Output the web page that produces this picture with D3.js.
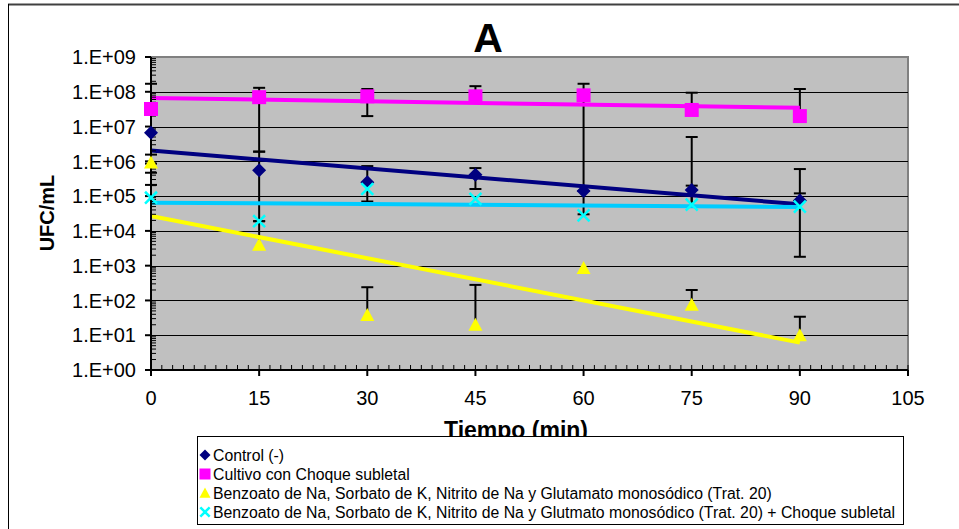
<!DOCTYPE html>
<html>
<head>
<meta charset="utf-8">
<script src="https://cdn.jsdelivr.net/npm/d3@7"></script>
<style>
  html, body { margin: 0; padding: 0; background: #fff; }
  svg { display: block; font-family: "Liberation Sans", Arial, sans-serif; }
</style>
</head>
<body>
<svg id="chart" width="959" height="529"></svg>
<script>
// Sampling times (min)
const times = [0, 15, 30, 45, 60, 75, 90];
const xTicks = [0, 15, 30, 45, 60, 75, 90, 105];
const yExponents = [0, 1, 2, 3, 4, 5, 6, 7, 8, 9];

// Control (-)
const control   = [6.6e6, 5.5e5, 2.5e5, 4.1e5, 1.4e5, 1.5e5, 7.5e4];
const controlHi = [null, 1.9e6, 7.3e5, 6.4e5, null, 5e6, 6e5];
const controlLo = [8.6e5, 1.9e4, 7e4, 1.6e5, 3e4, 5e4, 1.8e3];

// Cultivo con Choque subletal
const shock   = [3.2e7, 7e7, 7.4e7, 7.4e7, 7.9e7, 3e7, 2e7];
const shockHi = [1.7e8, 1.3e8, 1.2e8, 1.45e8, 1.7e8, 9.4e7, 1.2e8];
const shockLo = [null, 1.9e6, 2e7, null, 1.4e5, null, null];

// Trat. 20
const trat   = [9.2e5, 4e3, 38, 20, 850, 75, 10];
const tratHi = [1.56e6, 1.9e4, 240, 280, null, 200, 34];
const tratLo = [4.7e5, null, null, null, null, null, null];

// Trat. 20 + Choque subletal
const tratShock   = [9e4, 1.9e4, 1.6e5, 8.3e4, 2.8e4, 5.7e4, 5e4];
const tratShockHi = [2.1e5, null, null, null, null, 2e5, 1.2e5];
const tratShockLo = [null, null, null, null, null, null, null];

const legendLabels = [
  "Control (-)",
  "Cultivo con Choque subletal",
  "Benzoato de Na, Sorbato de K, Nitrito de Na y Glutamato monosódico (Trat. 20)",
  "Benzoato de Na, Sorbato de K, Nitrito de Na y Glutmato monosódico (Trat. 20) + Choque subletal"
];

const series = [
  { name: legendLabels[0], values: control,   hi: controlHi,   lo: controlLo,   marker: "diamond",  fill: "#000080", trend: "#000080" },
  { name: legendLabels[1], values: shock,     hi: shockHi,     lo: shockLo,     marker: "square",   fill: "#FF00FF", trend: "#FF00FF" },
  { name: legendLabels[2], values: trat,      hi: tratHi,      lo: tratLo,      marker: "triangle", fill: "#FFFF00", trend: "#FFFF00" },
  { name: legendLabels[3], values: tratShock, hi: tratShockHi, lo: tratShockLo, marker: "cross",    fill: "#00FFFF", trend: "#00CCFF" }
];

const svg = d3.select("#chart");
const plot = { left: 151, right: 908, top: 57, bottom: 370 };

const x = d3.scaleLinear().domain([0, 105]).range([plot.left, plot.right]);
const y = d3.scaleLog().domain([1, 1e9]).range([plot.bottom, plot.top]);

// outer chart frame
svg.append("line").attr("x1", 8).attr("x2", 959).attr("y1", 4.5).attr("y2", 4.5)
  .attr("stroke", "#404040").attr("stroke-width", 2);
svg.append("line").attr("x1", 8.5).attr("x2", 8.5).attr("y1", 4).attr("y2", 529)
  .attr("stroke", "#000").attr("stroke-width", 1);

// plot area
svg.append("rect")
  .attr("x", plot.left).attr("y", plot.top)
  .attr("width", plot.right - plot.left).attr("height", plot.bottom - plot.top)
  .attr("fill", "#C0C0C0");
svg.append("path")
  .attr("d", `M${plot.left},${plot.top}H${plot.right}V${plot.bottom}`)
  .attr("fill", "none").attr("stroke", "#808080").attr("stroke-width", 2);

// horizontal gridlines at each decade
svg.append("g").selectAll("line")
  .data(yExponents.filter(e => e > 0 && e < 9))
  .join("line")
  .attr("x1", plot.left).attr("x2", plot.right)
  .attr("y1", e => Math.round(y(Math.pow(10, e))) + 0.5)
  .attr("y2", e => Math.round(y(Math.pow(10, e))) + 0.5)
  .attr("stroke", "#000").attr("stroke-width", 1);

// error bars
const errG = svg.append("g");
series.forEach(s => {
  times.forEach((t, i) => {
    const cx = x(t);
    [s.hi[i], s.lo[i]].forEach(b => {
      if (b == null) return;
      errG.append("line")
        .attr("x1", cx).attr("x2", cx)
        .attr("y1", y(s.values[i])).attr("y2", y(b))
        .attr("stroke", "#000").attr("stroke-width", 2);
      errG.append("line")
        .attr("x1", cx - 6).attr("x2", cx + 6)
        .attr("y1", y(b)).attr("y2", y(b))
        .attr("stroke", "#000").attr("stroke-width", 2);
    });
  });
});

// exponential trendlines: least squares on log10 of the values
const trendG = svg.append("g");
series.forEach(s => {
  const ly = s.values.map(v => Math.log10(v));
  const mx = d3.mean(times), my = d3.mean(ly);
  const slope = d3.sum(times, (t, i) => (t - mx) * (ly[i] - my)) / d3.sum(times, t => (t - mx) * (t - mx));
  const icpt = my - slope * mx;
  const t0 = times[0], t1 = times[times.length - 1];
  trendG.append("line")
    .attr("x1", x(t0)).attr("y1", y(Math.pow(10, icpt + slope * t0)))
    .attr("x2", x(t1)).attr("y2", y(Math.pow(10, icpt + slope * t1)))
    .attr("stroke", s.trend).attr("stroke-width", 4);
});

// axes
const yAxisG = svg.append("g");
yAxisG.append("line").attr("x1", plot.left).attr("x2", plot.left)
  .attr("y1", plot.top).attr("y2", plot.bottom).attr("stroke", "#000").attr("stroke-width", 2);
// log minor ticks (inside)
const minorY = [];
yExponents.slice(0, -1).forEach(e => { for (let k = 2; k <= 9; k++) minorY.push(k * Math.pow(10, e)); });
yAxisG.selectAll(".ymin").data(minorY).join("line")
  .attr("x1", plot.left).attr("x2", plot.left + 5)
  .attr("y1", d => y(d)).attr("y2", d => y(d))
  .attr("stroke", "#000").attr("stroke-width", 1);
yAxisG.selectAll(".ymaj").data(yExponents).join("line")
  .attr("x1", plot.left - 6).attr("x2", plot.left)
  .attr("y1", e => y(Math.pow(10, e))).attr("y2", e => y(Math.pow(10, e)))
  .attr("stroke", "#000").attr("stroke-width", 2);
yAxisG.selectAll("text").data(yExponents).join("text")
  .attr("x", 136).attr("y", e => y(Math.pow(10, e)))
  .attr("dy", "0.36em").attr("text-anchor", "end")
  .attr("font-size", 20).attr("fill", "#000")
  .text(e => `1.E+${String(e).padStart(2, "0")}`);

const xAxisG = svg.append("g");
xAxisG.append("line").attr("x1", plot.left).attr("x2", plot.right)
  .attr("y1", plot.bottom).attr("y2", plot.bottom).attr("stroke", "#000").attr("stroke-width", 2);
const minorX = d3.range(0, 105.01, 1.5);
xAxisG.selectAll(".xmin").data(minorX).join("line")
  .attr("x1", d => x(d)).attr("x2", d => x(d))
  .attr("y1", plot.bottom - 5).attr("y2", plot.bottom)
  .attr("stroke", "#000").attr("stroke-width", 1);
xAxisG.selectAll(".xmaj").data(xTicks).join("line")
  .attr("x1", d => x(d)).attr("x2", d => x(d))
  .attr("y1", plot.bottom).attr("y2", plot.bottom + 6)
  .attr("stroke", "#000").attr("stroke-width", 2);
xAxisG.selectAll("text").data(xTicks).join("text")
  .attr("x", d => x(d)).attr("y", 405)
  .attr("text-anchor", "middle").attr("font-size", 20).attr("fill", "#000")
  .text(d => d);

// markers
function drawMarker(g, type, cx, cy, fill, size) {
  const h = size / 2;
  if (type === "diamond") {
    g.append("path").attr("d", `M${cx},${cy - h}L${cx + h},${cy}L${cx},${cy + h}L${cx - h},${cy}Z`).attr("fill", fill);
  } else if (type === "square") {
    g.append("rect").attr("x", cx - h).attr("y", cy - h).attr("width", size).attr("height", size).attr("fill", fill);
  } else if (type === "triangle") {
    g.append("path").attr("d", `M${cx},${cy - h}L${cx + h},${cy + h * 0.85}L${cx - h},${cy + h * 0.85}Z`).attr("fill", fill);
  } else {
    const c = h * 0.85;
    g.append("path").attr("d", `M${cx - c},${cy - c}L${cx + c},${cy + c}M${cx - c},${cy + c}L${cx + c},${cy - c}`)
      .attr("stroke", fill).attr("stroke-width", 2.5).attr("fill", "none");
  }
}
const markG = svg.append("g");
series.forEach(s => {
  times.forEach((t, i) => drawMarker(markG, s.marker, x(t), y(s.values[i]), s.fill, 14));
});

// titles
svg.append("text").attr("x", 488).attr("y", 52).attr("text-anchor", "middle")
  .attr("font-size", 41).attr("font-weight", "bold").text("A");
svg.append("text")
  .attr("transform", "translate(54,213) rotate(-90)")
  .attr("text-anchor", "middle").attr("font-size", 20).attr("font-weight", "bold")
  .text("UFC/mL");
svg.append("text").attr("x", 516).attr("y", 437.5).attr("text-anchor", "middle")
  .attr("font-size", 23).attr("font-weight", "bold").text("Tiempo (min)");

// legend
const lg = svg.append("g");
lg.append("rect").attr("x", 197.5).attr("y", 436.5).attr("width", 706).attr("height", 88)
  .attr("fill", "#fff").attr("stroke", "#000").attr("stroke-width", 1);
const rowY = [455, 474, 493, 512];
series.forEach((s, i) => {
  drawMarker(lg, s.marker, 205, rowY[i], s.fill, 11);
  lg.append("text").attr("x", 213).attr("y", rowY[i]).attr("dy", "0.36em")
    .attr("font-size", 15.8).attr("fill", "#000").text(legendLabels[i]);
});
</script>
</body>
</html>
